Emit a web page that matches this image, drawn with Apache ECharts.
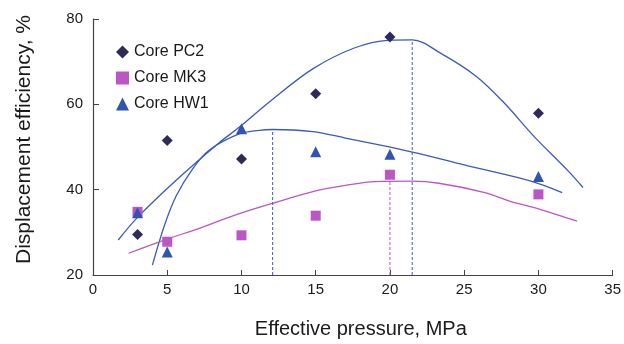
<!DOCTYPE html>
<html><head><meta charset="utf-8">
<script src="https://cdn.jsdelivr.net/npm/echarts@6/dist/echarts.min.js"></script>
<style>html,body{margin:0;padding:0;background:#fff}#c{width:624px;height:344px}</style>
</head><body><div id="c"></div>
<script>
// Measured data
const pressure = [3, 5, 10, 15, 20, 30];
const pc2 = [29.5, 51.5, 47.2, 62.5, 75.8, 57.9];
const mk3 = [34.8, 27.8, 29.3, 33.9, 43.5, 38.9];
const hw1 = [34.6, 25.4, 54.3, 48.9, 48.3, 43.1];

// Fitted curves
const pc2CurveX = [1.7, 3, 5.6, 8.5, 9.8, 12, 14.8, 17.6, 19.9, 21.5, 23.4, 25.8, 27.7, 29.7, 32, 33];
const pc2CurveY = [28.2, 33.5, 42.2, 51.0, 54.5, 60.9, 68.3, 73.2, 75.0, 75.1, 72.0, 66.6, 60.3, 52.5, 44.4, 40.5];
const hw1CurveX = [4, 4.8, 5.6, 6.7, 7.8, 9.8, 11.2, 12.1, 14.8, 17, 19.7, 21.9, 25, 29.5, 31.6];
const hw1CurveY = [22.3, 31.5, 38.5, 44.8, 49.2, 53.0, 53.9, 54.1, 53.6, 52.1, 50.2, 48.5, 45.8, 42.0, 39.3];
const mk3CurveX = [2.4, 4.9, 7.2, 9.8, 12.1, 15, 17, 19, 21.5, 23.3, 26.4, 28, 30.1, 32.6];
const mk3CurveY = [25.1, 28.3, 31.0, 34.3, 36.8, 39.7, 41.0, 41.9, 42.0, 41.5, 39.3, 37.4, 35.4, 32.6];

// Peak markers (dashed drop lines)
const peakX = [12.1, 21.5, 20.0];
const peakY = [54.1, 75.1, 42.0];
const yMin = 20;

// Axis ticks
const xTicks = {min: 0, max: 35, interval: 5};
const yTicks = {min: 20, max: 80, interval: 20};

const names = ['Core PC2', 'Core MK3', 'Core HW1'];
const BLUE = '#3a5bb8', MAG = '#bb57c4', NAVY = '#2e2b5c', TRI = '#2f55b0';
const FONT = 'Liberation Sans, Arial, sans-serif';

const zip = (xs, ys) => xs.map((x, i) => [x, ys[i]]);
const curve = (xs, ys, color) => ({
  type: 'line', data: zip(xs, ys), smooth: 0.35, showSymbol: false, symbol: 'none',
  lineStyle: {color, width: 1.3}, silent: true, z: 1
});
const peakColors = [BLUE, BLUE, MAG];
const drops = peakX.map((x, i) => ({
  type: 'line', data: [[x, yMin], [x, peakY[i]]], symbol: 'none', showSymbol: false,
  lineStyle: {color: peakColors[i], width: 1, type: [3, 2]}, silent: true, z: 1
}));

const chart = echarts.init(document.getElementById('c'), null, {renderer: 'canvas'});
chart.setOption({
  animation: false,
  backgroundColor: '#fff',
  textStyle: {fontFamily: FONT},
  grid: {left: 93, right: 10, top: 19, bottom: 68, containLabel: false},
  legend: {
    data: names, orient: 'vertical', left: 111, top: 39, itemWidth: 13, itemHeight: 13,
    itemGap: 10, selectedMode: false,
    textStyle: {fontSize: 16, color: '#1a1a1a', fontFamily: FONT}
  },
  xAxis: {
    type: 'value', min: xTicks.min, max: xTicks.max, interval: xTicks.interval,
    name: 'Effective pressure, MPa', nameLocation: 'middle', nameGap: 44,
    nameTextStyle: {fontSize: 20, color: '#1a1a1a', fontFamily: FONT, padding: [0, 0, 0, 16]},
    axisLine: {show: true, lineStyle: {color: '#444', width: 1.2}},
    axisTick: {show: true, inside: true, length: 5, lineStyle: {color: '#444'}},
    axisLabel: {fontSize: 15, color: '#1a1a1a', margin: 7, fontFamily: FONT},
    splitLine: {show: false}
  },
  yAxis: {
    type: 'value', min: yTicks.min, max: yTicks.max, interval: yTicks.interval,
    name: 'Displacement efficiency, %', nameLocation: 'middle', nameGap: 58,
    nameTextStyle: {fontSize: 21, color: '#1a1a1a', fontFamily: FONT, padding: [0, 0, 0, 15]},
    axisLine: {show: true, lineStyle: {color: '#444', width: 1.2}},
    axisTick: {show: true, inside: true, length: 6, lineStyle: {color: '#444'}},
    axisLabel: {fontSize: 15, color: '#1a1a1a', margin: 10, fontFamily: FONT},
    splitLine: {show: false}
  },
  series: [
    curve(pc2CurveX, pc2CurveY, BLUE),
    curve(hw1CurveX, hw1CurveY, BLUE),
    curve(mk3CurveX, mk3CurveY, MAG),
    ...drops,
    {name: names[0], type: 'scatter', data: zip(pressure, pc2), symbol: 'diamond', symbolSize: 11,
     itemStyle: {color: NAVY, opacity: 1}, z: 3},
    {name: names[1], type: 'scatter', data: zip(pressure, mk3), symbol: 'rect', symbolSize: 10,
     itemStyle: {color: MAG, opacity: 1}, z: 3},
    {name: names[2], type: 'scatter', data: zip(pressure, hw1), symbol: 'triangle', symbolSize: 11,
     itemStyle: {color: TRI, opacity: 1}, z: 4}
  ]
});
</script>
</body></html>
